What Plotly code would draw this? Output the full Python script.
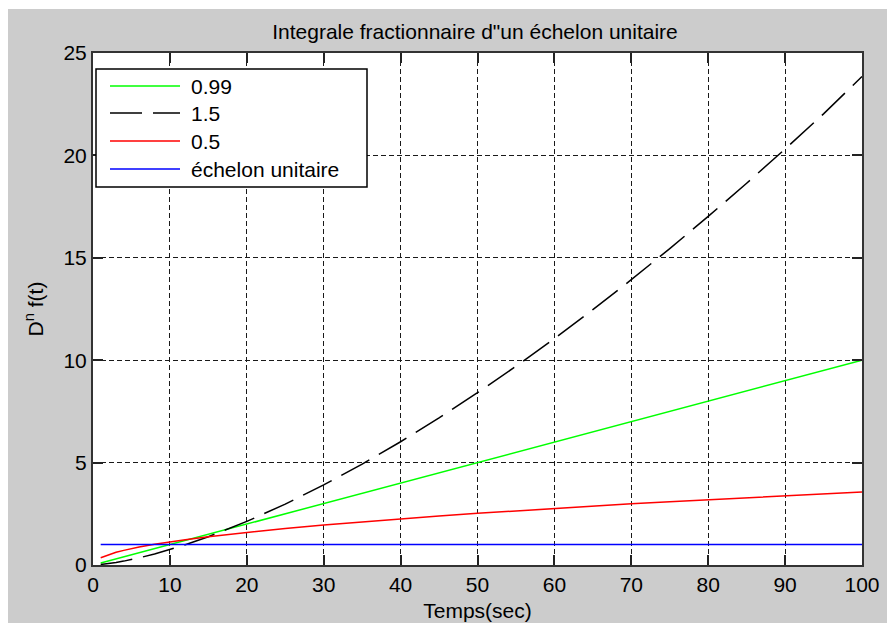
import plotly.graph_objects as go

# ---- data ----
x_vals = [1, 2, 3, 4, 5, 6, 8, 10, 12, 15, 20, 25, 30, 35, 40, 45, 50,
          55, 60, 65, 70, 75, 80, 85, 90, 95, 100]
y_099 = [0.10, 0.20, 0.30, 0.40, 0.50, 0.60, 0.80, 1.00, 1.20, 1.50, 2.00, 2.50,
         3.00, 3.50, 4.00, 4.50, 5.00, 5.50, 6.00, 6.50, 7.00, 7.50, 8.00, 8.50,
         9.00, 9.50, 10.00]
y_15 = [0.024, 0.067, 0.124, 0.190, 0.266, 0.350, 0.538, 0.752, 0.989, 1.382,
        2.128, 2.974, 3.909, 4.926, 6.018, 7.181, 8.411, 9.704, 11.06, 12.47,
        13.93, 15.45, 17.02, 18.64, 20.31, 22.03, 23.85]
y_05 = [0.357, 0.505, 0.618, 0.714, 0.798, 0.874, 1.009, 1.128, 1.236, 1.382,
        1.596, 1.784, 1.954, 2.111, 2.257, 2.394, 2.523, 2.646, 2.764, 2.877,
        2.985, 3.090, 3.191, 3.290, 3.385, 3.478, 3.568]
step_x = [1, 100]
step_y = [1, 1]

series_names = ["0.99", "1.5", "0.5", "échelon unitaire"]
series_colors = ["#00ff00", "#000000", "#ff0000", "#0000ff"]
series_dash = ["solid", "32px,11px", "solid", "solid"]

x_ticks = [0, 10, 20, 30, 40, 50, 60, 70, 80, 90, 100]
y_ticks = [0, 5, 10, 15, 20, 25]

title_text = "Integrale fractionnaire d\"un échelon unitaire"
x_title = "Temps(sec)"
y_title = "D<sup>n</sup> f(t)"

# ---- layout geometry (window pixels; the page body has an 8px margin) ----
OFF = 8
W, H = 895, 623
L, R, T, B = 93 - OFF, 862 - OFF, 53 - OFF, 565 - OFF
FONT = "Liberation Sans, Arial, sans-serif"


def px(xw):
    return (xw - OFF - L) / (R - L)


def py(yw):
    return (B - (yw - OFF)) / (B - T)


fig = go.Figure()
xs_all = [x_vals, x_vals, x_vals, step_x]
ys_all = [y_099, y_15, y_05, step_y]
for name, xs, ys, c, d in zip(series_names, xs_all, ys_all, series_colors, series_dash):
    fig.add_trace(go.Scatter(x=xs, y=ys, mode="lines", name=name,
                             line=dict(color=c, width=1.5, dash=d),
                             showlegend=False))

axis_common = dict(
    showgrid=True, gridcolor="#1a1a1a", gridwidth=1.4, griddash="5px,3px",
    showline=True, linecolor="#333333", linewidth=2, mirror="ticks",
    ticks="inside", ticklen=10, tickwidth=1.5, tickcolor="#222222",
    zeroline=False, tickfont=dict(family=FONT, size=21, color="#000000"),
)

fig.update_layout(
    width=W, height=H,
    margin=dict(l=L, r=W - R, t=T, b=H - B, autoexpand=False),
    paper_bgcolor="#cccccc", plot_bgcolor="#ffffff",
    font=dict(family=FONT, size=21, color="#000000"),
    title=dict(text=title_text, x=(475 - OFF) / W, xanchor="center",
               y=1 - (32 - OFF) / H, yanchor="middle", yref="container",
               font=dict(family=FONT, size=21, color="#000000")),
    xaxis=dict(range=[0, 100], tickvals=x_ticks, ticktext=[str(v) for v in x_ticks],
               title=dict(text=x_title, standoff=8, font=dict(size=21)),
               **axis_common),
    yaxis=dict(range=[0, 25], tickvals=y_ticks, ticktext=[str(v) for v in y_ticks],
               title=dict(text=y_title, standoff=14, font=dict(size=21)),
               **axis_common),
    showlegend=False,
)

shapes = []
# thin white strip at the very top of the figure
shapes.append(dict(type="rect", xref="paper", yref="paper", x0=px(0), x1=px(910),
                   y0=py(9), y1=py(0), fillcolor="#ffffff", line=dict(width=0),
                   layer="above"))
# legend box
shapes.append(dict(type="rect", xref="paper", yref="paper", x0=px(96), x1=px(367),
                   y0=py(187), y1=py(69), fillcolor="#ffffff",
                   line=dict(color="#000000", width=1.5), layer="above"))
row_y = [86, 113, 141, 169]
annotations = []
for name, c, d, ry in zip(series_names, series_colors, series_dash, row_y):
    shapes.append(dict(type="line", xref="paper", yref="paper", x0=px(110), x1=px(180),
                       y0=py(ry), y1=py(ry),
                       line=dict(color=c, width=1.5, dash=d), layer="above"))
    annotations.append(dict(xref="paper", yref="paper", x=px(189), y=py(ry),
                            text=name, showarrow=False, xanchor="left",
                            yanchor="middle",
                            font=dict(family=FONT, size=21, color="#000000")))

fig.update_layout(shapes=shapes, annotations=annotations)

fig.write_html("out.html")
